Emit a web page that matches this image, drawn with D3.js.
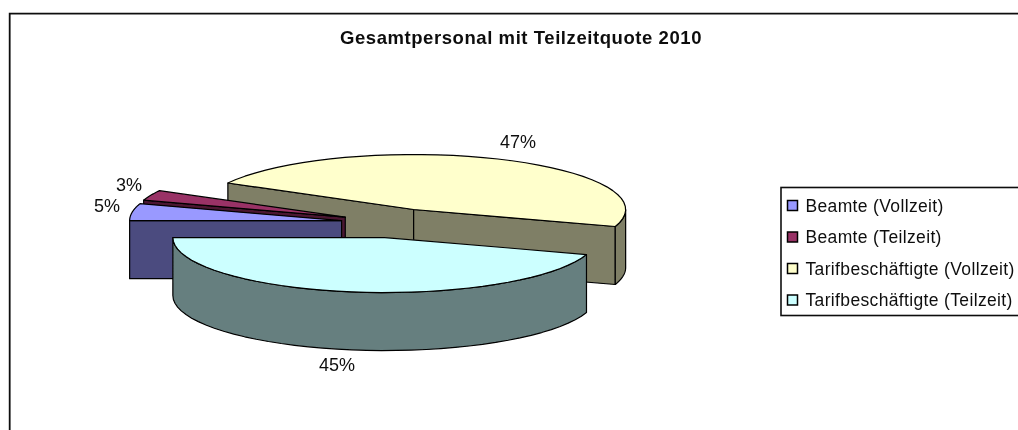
<!DOCTYPE html>
<html><head><meta charset="utf-8">
<script src="https://cdn.jsdelivr.net/npm/d3@7"></script>
<style>html,body{margin:0;padding:0;background:#fff;overflow:hidden}svg{display:block}text{font-family:"Liberation Sans",Arial,sans-serif;fill:#111}</style>
</head><body><svg id="c" width="1018" height="430"></svg>
<script>
const title = "Gesamtpersonal mit Teilzeitquote 2010";
const categories = ["Beamte (Vollzeit)","Beamte (Teilzeit)","Tarifbeschäftigte (Vollzeit)","Tarifbeschäftigte (Teilzeit)"];
const values = [5,3,47,45];
const topColors = ["#9999ff","#993366","#ffffcc","#ccffff"];
const wallColors = ["#4c4c7f","#4c1933","#7f7f66","#667f7f"];
const drawOrder = [2,1,0,3];

const svg = d3.select("#c");
const rx=212, ry=55, depth=58, cx=393, cy=223, explode=52, explodeY=0.283;
const pie = d3.pie().sort(null).startAngle(Math.PI*1.5).endAngle(Math.PI*3.5);
const arcs = pie(values);
const total = d3.sum(values);
const defs = svg.append("defs");
defs.append("filter").attr("id","soft").append("feGaussianBlur").attr("stdDeviation",0.55);
const root = svg.append("g").attr("filter","url(#soft)");

root.append("path").attr("d","M9.7,430V13.7H1018").attr("fill","none").attr("stroke","#111").attr("stroke-width",1.8);

root.append("text").attr("x",521).attr("y",44).attr("text-anchor","middle")
  .attr("font-size",18.5).attr("letter-spacing",0.57).attr("font-weight","bold").text(title);

const geo = arcs.map(a=>{
  const m=(a.startAngle+a.endAngle)/2;
  return {a, m, ox:cx+Math.sin(m)*explode, oy:cy-Math.cos(m)*explode*explodeY};
});
const pt=(g,t,dz=0)=>[g.ox+Math.sin(t)*rx, g.oy-Math.cos(t)*ry+dz];
const line=d3.line();
const arcPts=(g,t0,t1,dz=0)=>d3.range(0,41).map(i=>pt(g,t0+(t1-t0)*i/40,dz));

function quadPath(g,t){
  const p=pt(g,t), q=pt(g,t,depth);
  return line([[g.ox,g.oy],p,q,[g.ox,g.oy+depth]])+"Z";
}
drawOrder.forEach(i=>{
  const g=geo[i], s=g.a.startAngle, e=g.a.endAngle, gr=root.append("g");
  const wall=(d)=>gr.append("path").attr("d",d).attr("fill",wallColors[i])
    .attr("stroke","#000").attr("stroke-width",1.2).attr("stroke-linejoin","round");
  if(Math.sin(s)<0) wall(quadPath(g,s));
  if(Math.sin(e)>0) wall(quadPath(g,e));
  [[Math.PI/2,Math.PI*1.5],[Math.PI*2.5,Math.PI*3.5]].forEach(([lo,hi])=>{
    const t0=Math.max(s,lo), t1=Math.min(e,hi);
    if(t1>t0) wall(line(arcPts(g,t0,t1).concat(arcPts(g,t1,t0,depth)))+"Z");
  });
  gr.append("path").attr("d",line([[g.ox,g.oy]].concat(arcPts(g,s,e)))+"Z")
    .attr("fill",topColors[i]).attr("stroke","#000").attr("stroke-width",1.2).attr("stroke-linejoin","round");
});

// percentage labels
const labelPos=[[107,212],[129,191],[518,148],[337,371]];
values.forEach((v,i)=>{
  root.append("text").attr("x",labelPos[i][0]).attr("y",labelPos[i][1]).attr("text-anchor","middle")
    .attr("font-size",18).text(d3.format(".0%")(v/total));
});

// legend
const lg=root.append("g");
lg.append("rect").attr("x",781).attr("y",187.5).attr("width",260).attr("height",128)
  .attr("fill","#fff").attr("stroke","#111").attr("stroke-width",1.6);
const ly=d3.scalePoint().domain(categories).range([205.5,300]);
categories.forEach((c,i)=>{
  const y=ly(c);
  lg.append("rect").attr("x",787.5).attr("y",y-5).attr("width",10).attr("height",10)
    .attr("fill",topColors[i]).attr("stroke","#000").attr("stroke-width",1.5);
  lg.append("text").attr("x",805.5).attr("y",y+6).attr("font-size",17.5).attr("letter-spacing",0.35).text(c);
});
</script></body></html>
